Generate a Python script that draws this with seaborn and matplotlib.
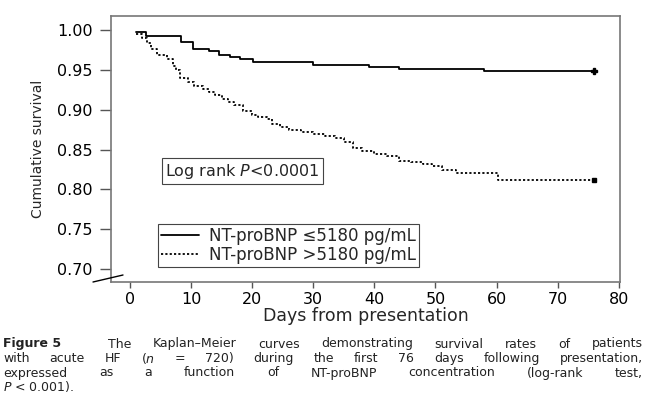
import numpy as np
import pandas as pd
import matplotlib
matplotlib.use("Agg")
import matplotlib.pyplot as plt
import seaborn as sns

# Kaplan-Meier step data
low_days = [1, 2.6, 8.4, 10.3, 13, 14.5, 16.4, 18, 20.2, 30, 39.2, 44.1, 58, 76]
low_surv = [0.998, 0.992, 0.985, 0.976, 0.973, 0.969, 0.966, 0.963, 0.960, 0.956,
            0.954, 0.951, 0.948, 0.948]
high_days = [1, 2, 2.8, 3.5, 4.5, 6, 7, 7.5, 8.2, 9.5, 10.5, 12, 13, 14, 15, 16, 17,
             18.5, 20, 21, 22.5, 23.3, 24.5, 26, 28, 30, 32, 33.6, 35, 36.5, 38, 40,
             42, 44, 46, 48, 49.5, 51, 53.3, 60.2, 76]
high_surv = [0.995, 0.990, 0.984, 0.976, 0.968, 0.963, 0.955, 0.950, 0.940, 0.935,
             0.930, 0.926, 0.922, 0.918, 0.914, 0.910, 0.906, 0.898, 0.893, 0.891,
             0.888, 0.882, 0.878, 0.875, 0.872, 0.869, 0.867, 0.865, 0.859, 0.852,
             0.848, 0.845, 0.842, 0.836, 0.834, 0.832, 0.829, 0.825, 0.821, 0.8125,
             0.8125]
group_labels = ["NT-proBNP \u22645180 pg/mL", "NT-proBNP >5180 pg/mL"]
x_ticks = [0, 10, 20, 30, 40, 50, 60, 70, 80]
y_ticks = [0.70, 0.75, 0.80, 0.85, 0.90, 0.95, 1.00]
caption_lines = [
    [("Figure 5", "bold"), ("", "gap"), "The", "Kaplan\u2013Meier", "curves", "demonstrating",
     "survival", "rates", "of", "patients"],
    ["with", "acute", "HF", r"($\it{n}$", "=", "720)", "during", "the", "first", "76", "days",
     "following", "presentation,"],
    ["expressed", "as", "a", "function", "of", "NT-proBNP", "concentration", "(log-rank",
     "test,"],
]
caption_last = r"$\it{P}$ < 0.001)."

sns.set_theme(style="white")
plt.rcParams['font.family'] = ['DejaVu Sans']
plt.rcParams['mathtext.fontset'] = 'dejavusans'

fig = plt.figure(figsize=(6.58, 3.96), dpi=100)
ax = fig.add_axes([0.1687, 0.2879, 0.7735, 0.6717])

df = pd.concat([
    pd.DataFrame({"day": low_days, "surv": low_surv, "group": group_labels[0]}),
    pd.DataFrame({"day": high_days, "surv": high_surv, "group": group_labels[1]}),
])
sns.lineplot(data=df, x="day", y="surv", hue="group", style="group",
             palette=["black", "black"],
             dashes={group_labels[0]: "", group_labels[1]: (1.2, 1.2)},
             drawstyle="steps-post", estimator=None, linewidth=1.3, ax=ax)

# censor marks at the end of follow-up
ax.plot([low_days[-1]], [low_surv[-1]], marker="P", color="black", markersize=5)
ax.plot([high_days[-1]], [high_surv[-1]], marker="s", color="black", markersize=3.5)

ax.set_xlim(-3.1, 80.2)
ax.set_ylim(0.684, 1.0175)
ax.set_xticks(x_ticks)
ax.set_yticks(y_ticks)
ax.set_yticklabels([f"{v:.2f}" for v in y_ticks])
ax.tick_params(axis="both", labelsize=11.5, colors="black")
ax.tick_params(axis="y", length=8, width=1, left=True, pad=5, color="#555555")
ax.tick_params(axis="x", length=4, width=1, bottom=True, pad=3, color="#555555")
for s in ax.spines.values():
    s.set_color("#777777")
    s.set_linewidth(1.2)

ax.set_xlabel("Days from presentation", fontsize=12.5, labelpad=0)
ax.set_ylabel("Cumulative survival", fontsize=10, labelpad=9)

h, l = ax.get_legend_handles_labels()
leg = ax.legend(h[:2], l[:2], loc="lower left", bbox_to_anchor=(0.092, 0.056),
                borderaxespad=0, fontsize=12, handlelength=2.3, fancybox=False,
                framealpha=1, edgecolor="#444444", borderpad=0.2, labelspacing=0.05,
                handletextpad=0.55)
leg.get_frame().set_linewidth(0.8)

ax.text(0.106, 0.417, r"Log rank $\it{P}$<0.0001", transform=ax.transAxes,
        fontsize=11.5, va="center", ha="left",
        bbox=dict(boxstyle="square,pad=0.2", fc="white", ec="#444444", lw=0.8))

# axis break mark
fig.add_artist(plt.Line2D([93 / 658, 123 / 658], [1 - 282 / 396, 1 - 275 / 396],
                          color="black", lw=1))

# justified caption
fig.canvas.draw()
r = fig.canvas.get_renderer()
x0, x1 = 3, 643
cap_size = 9
ys = [344, 358.5, 373]
for words, y in zip(caption_lines, ys):
    arts, widths = [], []
    for w in words:
        if isinstance(w, tuple):
            txt, st = w
        else:
            txt, st = w, "normal"
        if st == "gap":
            t = fig.text(0, 0, " ", fontsize=cap_size)
        else:
            t = fig.text(0, 0, txt, fontsize=cap_size, color="#222222",
                         fontweight="bold" if st == "bold" else "normal")
        arts.append(t)
        widths.append(t.get_window_extent(r).width)
    gap = (x1 - x0 - sum(widths)) / (len(arts) - 1)
    xp = x0
    for t, wd in zip(arts, widths):
        t.set_position((xp / 658, 1 - y / 396))
        t.set_va("center")
        xp += wd + gap
fig.text(3 / 658, 1 - 387 / 396, caption_last, fontsize=cap_size, color="#222222",
         va="center")

fig.savefig("out.png", dpi=100)
